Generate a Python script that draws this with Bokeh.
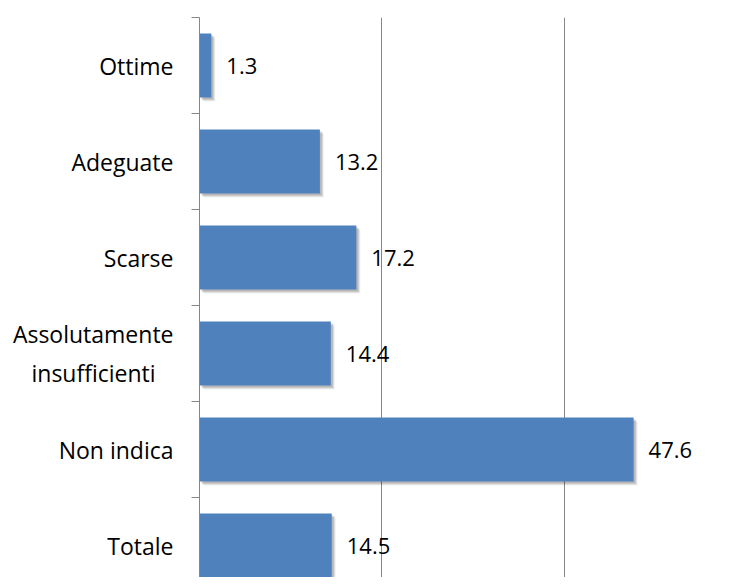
from bokeh.plotting import figure
from bokeh.models import Range1d, FixedTicker, LabelSet, ColumnDataSource, Grid
from bokeh.core.properties import value
from bokeh.embed import file_html
from bokeh.resources import INLINE

categories = ["Ottime", "Adeguate", "Scarse", "Assolutamente\ninsufficienti", "Non indica", "Totale"]
values = [1.3, 13.2, 17.2, 14.4, 47.6, 14.5]
value_labels = ["1.3", "13.2", "17.2", "14.4", "47.6", "14.5"]
x_ticks = [0, 20, 40]

n = len(categories)
ypos = [n - i for i in range(n)]
boundaries = [k + 0.5 for k in range(n + 1)]

W, H = 723, 577
LEFT, TOP = 199, 17
px_x = 9.12
x_max = (W - LEFT) / px_x
px_y = 96.0
y_min = n + 0.5 - (H - TOP) / px_y

FONT = "Open Sans"
FS = "23px"


def approx_width(s):
    w = 0.0
    for ch in s:
        if ch in "iljft":
            w += 0.28
        elif ch == "m":
            w += 0.92
        elif ch.isupper():
            w += 0.65
        else:
            w += 0.55
    return w


def center_lines(label):
    # pad shorter lines with non-breaking spaces so the lines look centred
    lines = label.split("\n")
    if len(lines) == 1:
        return label
    longest = max(approx_width(l) for l in lines)
    out = []
    for l in lines:
        pad = round((longest - approx_width(l)) / 2 / 0.26)
        out.append(l + "\u00a0" * pad)
    return "\n".join(out)


p = figure(width=W, height=H, output_backend="svg", toolbar_location=None,
           x_range=Range1d(0, x_max), y_range=Range1d(y_min, n + 0.5),
           x_axis_location=None,
           min_border_left=LEFT, min_border_top=TOP, min_border_bottom=0, min_border_right=0)
p.outline_line_color = None
p.background_fill_color = "white"
p.border_fill_color = "white"

p.ygrid.visible = False
p.xgrid.visible = False
p.add_layout(Grid(dimension=0, ticker=FixedTicker(ticks=x_ticks),
                  grid_line_color="#868686", grid_line_width=1))

ax = p.yaxis[0]
ax.ticker = FixedTicker(ticks=ypos, minor_ticks=boundaries)
ax.major_label_overrides = {yy: center_lines(cat) for yy, cat in zip(ypos, categories)}
ax.major_label_text_font = FONT
ax.major_label_text_font_size = FS
ax.major_label_text_color = "black"
ax.major_label_standoff = 18
ax.axis_line_color = "#868686"
ax.major_tick_line_color = None
ax.minor_tick_line_color = "#868686"
ax.minor_tick_out = 8
ax.minor_tick_in = 0

bh = 0.667
src = ColumnDataSource(dict(y=ypos, v=values, lab=value_labels))

# soft drop shadow
for k, a in [(4, 0.06), (3, 0.10), (2, 0.14)]:
    dx = k / px_x
    dy = k / px_y
    p.hbar(y=[yy - dy for yy in ypos], right=[v + dx for v in values], left=dx,
           height=bh, color="black", alpha=a, line_color=None)

p.hbar(y="y", right="v", left=0, height=bh, source=src,
       fill_color="#4F81BD", line_color=None)

p.add_layout(LabelSet(x="v", y="y", text="lab", source=src, x_offset=15,
                      text_align="left", text_baseline="middle",
                      text_font=value(FONT), text_font_size=value("22px"), text_color="black"))

open("out.html", "w").write(file_html(p, INLINE))
